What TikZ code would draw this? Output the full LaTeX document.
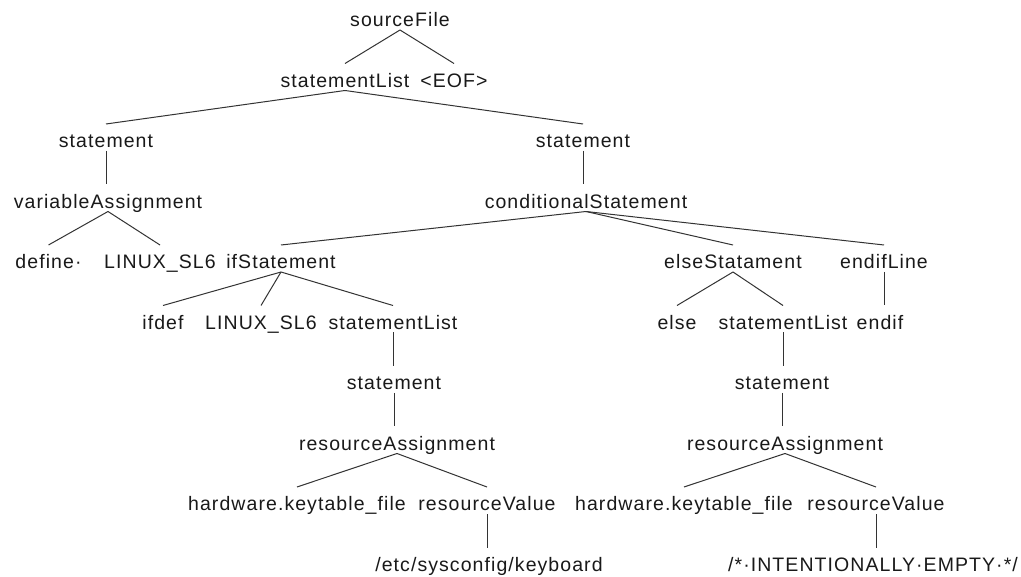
\documentclass[tikz,border=0pt]{standalone}
\usepackage{fontspec}
\setmainfont{Liberation Sans}[LetterSpace=5.5]
\begin{document}
\begin{tikzpicture}[x=1pt,y=-1pt,
  tn/.style={anchor=base,inner sep=0pt,outer sep=0pt,text height=24pt,text depth=3pt,
    font=\fontsize{19.5}{20}\selectfont,text=black!90},
  br/.style={draw=black!80,line width=1pt}]
\useasboundingbox[fill=white] (0,0) rectangle (1021,577);
% row baselines step by 60.5 units
\node[tn] (sf)   at (400,27)    {sourceFile};
\node[tn] (sl)   at (345,87.5)  {statementList};
\node[tn] (eof)  at (454,87.5)  {<EOF>};
\node[tn] (stA)  at (106,148)   {statement};
\node[tn] (stB)  at (583,148)   {statement};
\node[tn] (va)   at (108,208.5) {variableAssignment};
\node[tn] (cs)   at (586,208.5) {conditionalStatement};
\node[tn] (def)  at (48.5,269)  {define·};
\node[tn] (lxA)  at (160,269)   {LINUX\_SL6};
\node[tn] (ifs)  at (281,269)   {ifStatement};
\node[tn] (els)  at (733,269)   {elseStatament};
\node[tn] (eil)  at (884,269)   {endifLine};
\node[tn] (ifd)  at (163,329.5) {ifdef};
\node[tn] (lxB)  at (261,329.5) {LINUX\_SL6};
\node[tn] (slA)  at (393,329.5) {statementList};
\node[tn] (else) at (677,329.5) {else};
\node[tn] (slB)  at (783,329.5) {statementList};
\node[tn] (eif)  at (880,329.5) {endif};
\node[tn] (stC)  at (394,390)   {statement};
\node[tn] (stD)  at (782,390)   {statement};
\node[tn] (raA)  at (397,450.5) {resourceAssignment};
\node[tn] (raB)  at (785,450.5) {resourceAssignment};
\node[tn] (hwA)  at (297,511)   {hardware.keytable\_file};
\node[tn] (rvA)  at (487,511)   {resourceValue};
\node[tn] (hwB)  at (684,511)   {hardware.keytable\_file};
\node[tn] (rvB)  at (876,511)   {resourceValue};
\node[tn] (etc)  at (489,571.5) {/etc/sysconfig/keyboard};
\node[tn] (emp)  at (873,571.5) {/*·INTENTIONALLY·EMPTY·*/};
% slanted branches
\foreach \p/\c in {sf/sl,sf/eof,sl/stA,sl/stB,va/def,va/lxA,cs/ifs,cs/els,cs/eil,
    ifs/ifd,ifs/lxB,ifs/slA,els/else,els/slB,raA/hwA,raA/rvA,raB/hwB,raB/rvB}
  \draw[br] (\p.south) -- (\c.north);
% single-child branches drop straight down
\foreach \p/\c in {stA/va,stB/cs,eil/eif,slA/stC,stC/raA,slB/stD,stD/raB,rvA/etc,rvB/emp}
  \draw[br] (\p.south) -- (\p.south |- \c.north);
\end{tikzpicture}
\end{document}
